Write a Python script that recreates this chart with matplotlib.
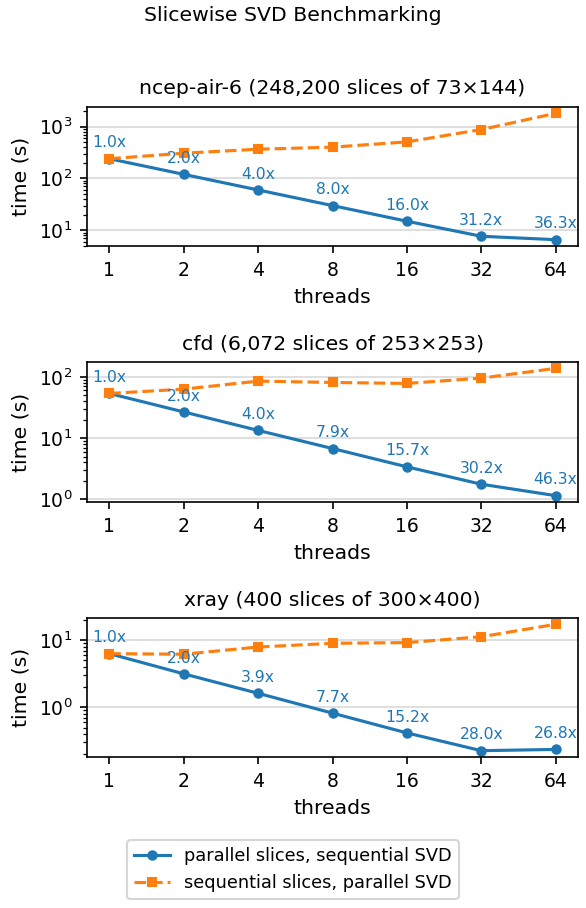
import matplotlib
matplotlib.use("Agg")
import matplotlib.pyplot as plt
from matplotlib.ticker import NullLocator

threads = [1, 2, 4, 8, 16, 32, 64]

titles = [
    "ncep-air-6 (248,200 slices of 73\u00d7144)",
    "cfd (6,072 slices of 253\u00d7253)",
    "xray (400 slices of 300\u00d7400)",
]

# time (s)
par_slices = [
    [240, 120, 60, 30, 15, 7.69, 6.61],
    [53.4, 26.7, 13.35, 6.76, 3.40, 1.77, 1.153],
    [6.32, 3.16, 1.62, 0.82, 0.416, 0.226, 0.236],
]
par_svd = [
    [240, 307, 366, 401, 507, 876, 1800],
    [53.4, 62.8, 84.9, 80.7, 77.8, 95, 137],
    [6.32, 6.2, 7.94, 9.02, 9.23, 11.3, 17.3],
]

W, H, DPI = 586, 908, 150
fig = plt.figure(figsize=(W / DPI, H / DPI), dpi=DPI)

# axes boxes in pixels: (top, bottom)
boxes = [(107, 246), (362, 502), (618, 757)]
left, right = 87, 578

for i, (top, bot) in enumerate(boxes):
    ax = fig.add_axes([left / W, 1 - bot / H, (right - left) / W, (bot - top) / H])
    l1, = ax.plot(threads, par_slices[i], "o-", color="C0", ms=4,
                  label="parallel slices, sequential SVD")
    l2, = ax.plot(threads, par_svd[i], "s--", color="C1", ms=4,
                  label="sequential slices, parallel SVD")
    base = par_slices[i][0]
    for t, v in zip(threads, par_slices[i]):
        ax.annotate(f"{base / v:.1f}x", (t, v), xytext=(0, 4),
                    textcoords="offset points", ha="center", va="bottom",
                    color="C0", fontsize=7.5)
    ax.set_xscale("log", base=2)
    ax.set_yscale("log")
    ax.set_xticks(threads)
    ax.set_xticklabels([str(t) for t in threads])
    ax.xaxis.set_minor_locator(NullLocator())
    ax.tick_params(labelsize=9)
    ax.grid(axis="y", which="major", color="0.85", lw=0.8)
    ax.set_axisbelow(True)
    ax.set_title(titles[i], fontsize=9.8)
    ax.set_xlabel("threads", fontsize=9.8)
    ax.set_ylabel("time (s)", fontsize=9.8)

fig.suptitle("Slicewise SVD Benchmarking", fontsize=9.8, y=1 - 6 / H, va="top")
fig.legend(handles=[l1, l2], loc="lower center", bbox_to_anchor=(0.5, 0.0),
           fontsize=8.5)

fig.savefig("out.png", dpi=DPI)
